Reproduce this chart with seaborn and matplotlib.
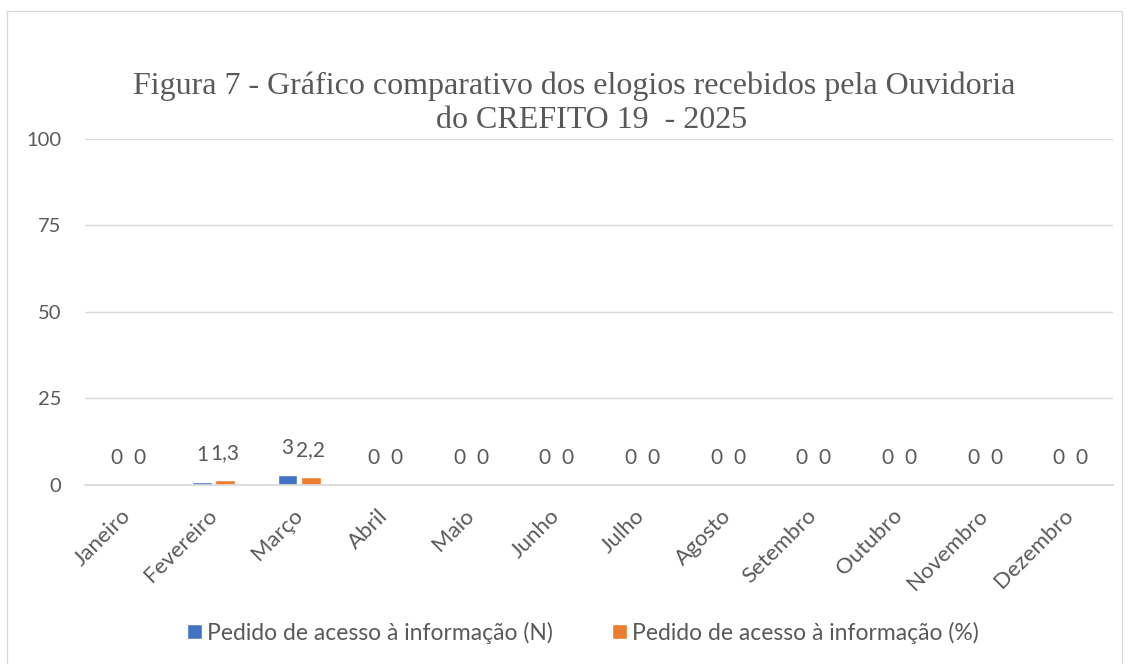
import matplotlib
matplotlib.use("Agg")
import matplotlib.pyplot as plt
import seaborn as sns
import pandas as pd
from matplotlib.patches import Rectangle

months = ["Janeiro", "Fevereiro", "Março", "Abril", "Maio", "Junho", "Julho",
          "Agosto", "Setembro", "Outubro", "Novembro", "Dezembro"]
series_names = ["Pedido de acesso à informação (N)", "Pedido de acesso à informação (%)"]
values_n = [0, 1, 3, 0, 0, 0, 0, 0, 0, 0, 0, 0]
values_pct = [0, 1.3, 2.2, 0, 0, 0, 0, 0, 0, 0, 0, 0]
yticks = [0, 25, 50, 75, 100]
title_line1 = "Figura 7 - Gráfico comparativo dos elogios recebidos pela Ouvidoria"
title_line2 = "do CREFITO 19  - 2025"

df = pd.DataFrame({
    "Mês": months * 2,
    "Série": [series_names[0]] * len(months) + [series_names[1]] * len(months),
    "Valor": values_n + values_pct,
})

sns.set_theme(style="white")
plt.rcParams["font.family"] = ["Lato", "DejaVu Sans"]
txt = "#595959"

fig = plt.figure(figsize=(11.3, 6.64), dpi=100)
ax = fig.add_axes([0.0752, 0.2696, 0.985 - 0.0752, 0.7907 - 0.2696])

palette = ["#4472C4", "#ED7D31"]
sns.barplot(data=df, x="Mês", y="Valor", hue="Série", palette=palette,
            width=0.54, gap=0.15, ax=ax, legend=True, saturation=1)

ax.set_ylim(0, 100)
ax.set_yticks(yticks)
ax.set_yticklabels([str(t) for t in yticks], color=txt, fontsize=14.5)
ax.set_xlabel("")
ax.set_ylabel("")
ax.grid(axis="y", color="#d9d9d9", linewidth=1)
ax.set_axisbelow(True)
for s in ["top", "right", "left"]:
    ax.spines[s].set_visible(False)
ax.spines["bottom"].set_color("#d9d9d9")
ax.tick_params(axis="y", length=0, pad=17)
ax.tick_params(axis="x", length=0, pad=20)
ax.set_xticks(range(len(months)))
ax.set_xticklabels(months, rotation=45, ha="right", va="center", rotation_mode="anchor",
                   color=txt, fontsize=16)

def fmt(v):
    return ("%g" % v).replace(".", ",")

for cont in ax.containers:
    for bar in cont:
        h = bar.get_height()
        ax.annotate(fmt(h), (bar.get_x() + bar.get_width() / 2, h),
                    xytext=(0, 27), textcoords="offset pixels",
                    ha="center", va="center", color=txt, fontsize=15)

leg = ax.legend(loc="center", bbox_to_anchor=(0.516, 0.047), bbox_transform=fig.transFigure,
                ncol=2, frameon=False, fontsize=16.5, handlelength=0.65, handleheight=0.65,
                handletextpad=0.2, columnspacing=2.6)
for t in leg.get_texts():
    t.set_color(txt)

serif = ["Liberation Serif", "DejaVu Serif"]
fig.text(574 / 1130, 1 - 86 / 664, title_line1, ha="center", va="center", fontsize=23,
         family=serif, color=txt)
fig.text(592 / 1130, 1 - 120 / 664, title_line2, ha="center", va="center", fontsize=23,
         family=serif, color=txt)

fig.patches.append(Rectangle((7 / 1130, -0.01), (1122 - 7) / 1130, 1 - 11 / 664 + 0.01,
                             transform=fig.transFigure, fill=False,
                             edgecolor="#d9d9d9", linewidth=1))

fig.savefig("out.png", dpi=100)
